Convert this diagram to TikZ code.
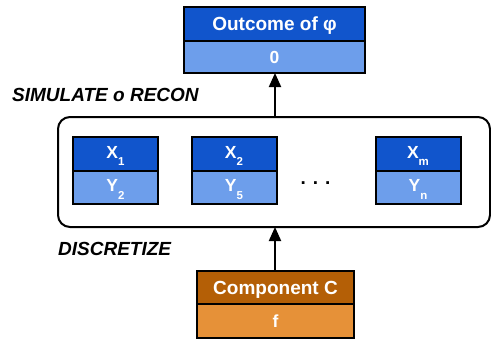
\documentclass[tikz,border=0pt]{standalone}
\usepackage{fontspec}
\setmainfont{Liberation Sans}
\usetikzlibrary{arrows.meta}
\definecolor{hdrblue}{HTML}{1155CC}
\definecolor{bodyblue}{HTML}{6D9EEB}
\definecolor{hdrbrown}{HTML}{B45F06}
\definecolor{bodyorange}{HTML}{E69138}

% subscript set smaller and dropped below the baseline
\newcommand{\lowsub}[1]{\raisebox{-7.5pt}{\fontsize{11.5}{11.5}\selectfont #1}}

\begin{document}
\begin{tikzpicture}[x=1pt,y=-1pt,
  cell/.style={draw=black, line width=2pt, text=white, inner sep=0pt, outer sep=0pt,
    font=\fontsize{17.5}{17.5}\selectfont\bfseries, text height=12.5pt, text depth=0pt},
  bigcell/.style={cell, font=\fontsize{19}{19}\selectfont\bfseries, text height=13.6pt},
  subcell/.style={cell, text depth=4pt},
  hdr/.style={fill=hdrblue},
  body/.style={fill=bodyblue},
  stage/.style={inner sep=0pt, anchor=base west, font=\fontsize{19}{19}\selectfont\bfseries\itshape},
  flow/.style={line width=2pt, -{Triangle[width=12pt,length=14pt]}},
  group/.style={draw=black, line width=2pt, rounded corners=12pt, inner sep=0pt, outer sep=0pt}
]
\useasboundingbox (0,0) rectangle (491,343);

% outcome (top)
\node[bigcell, hdr, minimum width=181pt, minimum height=34pt] (outH) at (274.5,24) {Outcome of φ};
\node[cell, body, minimum width=181pt, minimum height=32pt, anchor=north] (outB) at (outH.south) {0};

% grouping frame of the discretised variables
\node[group, minimum width=432pt, minimum height=110pt] (grp) at (274,172) {};

% variable boxes
\node[subcell, hdr, minimum width=85pt, minimum height=34pt] (x1) at (115.5,154) {X\lowsub{1}};
\node[subcell, body, minimum width=85pt, minimum height=33pt, anchor=north] (y1) at (x1.south) {Y\lowsub{2}};
\node[subcell, hdr, minimum width=85pt, minimum height=34pt] (x2) at (234,154) {X\lowsub{2}};
\node[subcell, body, minimum width=85pt, minimum height=33pt, anchor=north] (y2) at (x2.south) {Y\lowsub{5}};
\node[subcell, hdr, minimum width=85pt, minimum height=34pt] (xm) at (418,154) {X\lowsub{m}};
\node[subcell, body, minimum width=85pt, minimum height=33pt, anchor=north] (yn) at (xm.south) {Y\lowsub{n}};
\node[inner sep=0pt, anchor=base, font=\fontsize{19}{19}\selectfont\bfseries] (dots) at (315.5,184.5) {.\hspace{7pt}.\hspace{7pt}.};

% component (bottom)
\node[bigcell, fill=hdrbrown, minimum width=157pt, minimum height=33pt] (compH) at (275.5,287.5) {Component C};
\node[cell, fill=bodyorange, minimum width=157pt, minimum height=34pt, anchor=north] (compB) at (compH.south) {f};

% stage labels
\node[stage] (simlbl) at (12,101.7) {SIMULATE o RECON};
\node[stage] (dislbl) at (58,255) {DISCRETIZE};

% connectors
\draw[flow] (compH.north -| 275,0) -- (grp.south -| 275,0);
\draw[flow] (grp.north -| 275,0) -- (outB.south -| 275,0);
\end{tikzpicture}
\end{document}
